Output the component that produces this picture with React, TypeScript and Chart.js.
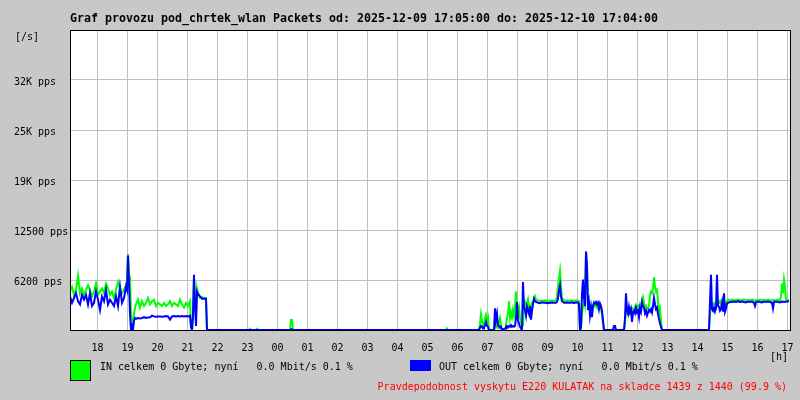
import React, { useEffect, useRef } from "react";
import { Chart, registerables } from "chart.js";

Chart.register(...registerables);

// minutes since 2025-12-09 17:05
const timeMin = [
  0, 4, 8, 12, 16, 20, 24, 28, 32, 36, 40, 44, 48, 52, 56, 60, 64, 68, 72, 76, 80, 84, 88, 92, 96, 100, 104, 108, 112, 114, 116, 118, 120, 122, 124, 126, 128, 130,
  132, 136, 140, 144, 148, 152, 156, 160, 164, 168, 172, 176, 180, 184, 188, 192, 196, 200, 204, 208, 212, 216, 220, 224, 228, 232, 236, 240,
  242, 244, 246, 248, 250, 252, 254, 256, 260, 264, 268, 272, 274,
  358, 360, 362, 372, 374, 376, 440, 442, 444, 446, 752, 754, 756, 818,
  820, 822, 824, 826, 828, 830, 832, 834, 836, 838, 848, 850, 852, 854, 856, 858, 860, 862, 864,
  870, 872, 874, 876, 878, 880, 882, 884, 886, 888, 890, 892, 894, 896, 898, 900, 902, 904, 906,
  908, 910, 912, 914, 916, 918, 920, 922, 924, 926, 928, 930, 932, 936, 940, 944, 948, 952, 956, 960, 964, 968, 972,
  974, 976, 978, 980, 982, 984, 988, 992, 996, 1000, 1004, 1008, 1012, 1016, 1018, 1020,
  1022, 1024, 1026, 1028, 1030, 1032, 1034, 1036, 1038, 1040, 1042, 1044, 1046, 1048, 1050, 1052, 1054, 1056, 1058, 1060, 1062, 1064, 1066, 1068,
  1086, 1088, 1090, 1092, 1108,
  1110, 1112, 1114, 1116, 1118, 1120, 1122, 1124, 1126, 1128, 1130, 1132, 1134, 1136, 1138, 1140, 1142, 1144, 1146, 1148, 1150, 1152, 1154, 1156, 1158,
  1160, 1162, 1164, 1166, 1168, 1170, 1172, 1174, 1176, 1178, 1180, 1182, 1184, 1278,
  1280, 1282, 1284, 1286, 1288, 1290, 1292, 1294, 1296, 1298, 1300, 1302, 1304, 1306, 1308, 1310, 1312, 1314,
  1316, 1320, 1324, 1328, 1332, 1336, 1340, 1344, 1348, 1352, 1356, 1360, 1364, 1368, 1370, 1372, 1376, 1380, 1384, 1388, 1392, 1396, 1400, 1404, 1406,
  1408, 1412, 1416, 1420, 1422, 1424, 1426, 1428, 1430, 1432, 1436, 1438,
];

const inPps = [
  4800, 5400, 4400, 5000, 6800, 4600, 5200, 4400, 5000, 5600, 5000, 4200, 4800, 5800, 4400, 4800, 5200, 4600, 5800, 5200, 4400, 4800, 4000, 5000, 6000, 5200, 4600, 5000, 5600, 6200, 9500, 7000, 6500, 2000, 1200, 500, 2000, 2800,
  3200, 3800, 2800, 3600, 3000, 3400, 4000, 3200, 3600, 3800, 3000, 3400, 3200, 3000, 3400, 3000, 3200, 3600, 3000, 3400, 3200, 3000, 3800, 3200, 2800, 3400, 3000, 3600,
  600, 0, 1500, 6500, 3500, 2000, 5200, 4600, 4000, 4100, 4000, 4000, 0,
  0, 150, 0, 0, 150, 0, 0, 1250, 1250, 0, 0, 200, 0, 0,
  800, 2000, 1200, 300, 600, 1500, 1900, 1200, 1600, 0, 0, 600, 300, 500, 300, 1000, 1500, 600, 0,
  200, 800, 1500, 2000, 3600, 1500, 2200, 1600, 2500, 1800, 2800, 4800, 3000, 2200, 2800, 1600, 1000, 500, 600,
  3000, 3400, 2600, 3200, 3800, 2800, 3000, 2600, 3400, 3600, 3800, 4200, 3800, 3700, 3650, 3700, 3650, 3700, 3600, 3650, 3700, 3650, 3700,
  4200, 5500, 6500, 7400, 5500, 4000, 3700, 3650, 3700, 3650, 3700, 3600, 3700, 3650, 3600, 0,
  200, 2000, 3000, 3500, 3000, 9800, 8000, 3300, 2800, 3200, 2600, 3000, 2800, 3400, 3000, 3200, 2800, 3300, 3000, 3200, 2600, 2000, 800, 0,
  0, 0, 0, 0, 0,
  800, 2500, 2200, 2800, 2600, 2800, 2400, 2200, 2700, 2600, 2900, 2400, 2800, 3000, 2600, 3200, 2800, 3600, 4100, 3400, 2800, 3000, 2600, 2800, 3000,
  4400, 4800, 4600, 5200, 6600, 5400, 4800, 5000, 3600, 2000, 2600, 1200, 0, 0,
  2000, 3000, 3100, 3300, 3200, 3400, 3300, 3200, 3500, 3400, 3600, 3200, 3300, 3000, 3400, 3200, 3400, 3600,
  3800, 3700, 3800, 3700, 3750, 3800, 3700, 3750, 3800, 3700, 3750, 3700, 3800, 3700, 3650, 3750, 3700, 3800, 3700, 3750, 3700, 3800, 3700, 3750, 3700,
  3750, 3700, 3800, 3700, 4200, 5800, 4600, 6300, 5400, 3800, 3750, 3800,
];

const outPps = [
  4200, 3400, 4000, 4600, 3600, 3200, 4400, 3800, 4400, 3200, 4600, 3000, 3400, 4800, 3800, 2500, 4200, 3600, 5000, 3200, 3800, 3400, 3000, 4200, 3000, 5400, 3400, 4000, 5400, 5000, 9300, 6000, 2000, 0, 500, 0, 1200, 1500,
  1400, 1500, 1450, 1500, 1600, 1500, 1550, 1600, 1800, 1700, 1650, 1700, 1700, 1650, 1700, 1750, 1700, 1300, 1700, 1750, 1700, 1750, 1700, 1750, 1700, 1750, 1700, 1800,
  300, 0, 2000, 6900, 3000, 500, 4800, 4500, 4200, 3900, 3900, 3900, 0,
  0, 0, 0, 0, 0, 0, 0, 100, 100, 0, 0, 0, 0, 0,
  300, 500, 400, 200, 300, 600, 1000, 500, 400, 0, 0, 2700, 1200, 2000, 600, 500, 300, 400, 0,
  200, 400, 500, 300, 500, 400, 600, 400, 500, 400, 500, 1500, 3500, 1200, 800, 400, 200, 0, 6000,
  2800, 2500, 1800, 2900, 2400, 2000, 3000, 1300, 2400, 3200, 3900, 3600, 3500, 3400, 3350, 3450, 3400, 3400, 3350, 3400, 3450, 3400, 3400,
  3500, 3900, 5000, 5600, 4200, 3600, 3400, 3450, 3400, 3400, 3450, 3350, 3450, 3400, 3300, 0,
  300, 4500, 6300, 4000, 3000, 9800, 8000, 2500, 3400, 1800, 2800, 1600, 3000, 3400, 3300, 3500, 3200, 3400, 2600, 3300, 3000, 2400, 1200, 0,
  0, 500, 500, 0, 0,
  1500, 4600, 2400, 2000, 2900, 2200, 2600, 1000, 2200, 2400, 2100, 2800, 2200, 2400, 1600, 2700, 2300, 3500, 3000, 2800, 2100, 2400, 1800, 2200, 2500,
  2300, 2600, 2200, 3000, 4000, 3200, 2600, 2800, 2000, 1400, 800, 400, 0, 0,
  3500, 6900, 2600, 2400, 2800, 2300, 2700, 6900, 3000, 2900, 2400, 2600, 3400, 2300, 4600, 2300, 2700, 3300,
  3400, 3500, 3500, 3550, 3500, 3600, 3500, 3550, 3500, 3450, 3550, 3500, 3550, 3400, 3000, 3500, 3550, 3500, 3450, 3550, 3500, 3550, 3500, 3400, 2700,
  3500, 3550, 3500, 3450, 3500, 3550, 3500, 3550, 3500, 3550, 3600, 3550,
];

// hour grid positions (minutes since 17:05) and labels
const hourTicks = [55, 115, 175, 235, 295, 355, 415, 475, 535, 595, 655, 715, 775, 835, 895, 955, 1015, 1075, 1135, 1195, 1255, 1315, 1375, 1435];
const hourLabels = ["18", "19", "20", "21", "22", "23", "00", "01", "02", "03", "04", "05", "06", "07", "08", "09", "10", "11", "12", "13", "14", "15", "16", "17"];

const yTickValues = [0, 6250, 12500, 18750, 25000, 31250, 37500];
const yTickLabels = ["", "6200 pps", "12500 pps", "19K pps", "25K pps", "32K pps", ""];

const titleText = "Graf provozu pod_chrtek_wlan Packets od: 2025-12-09 17:05:00 do: 2025-12-10 17:04:00";
const inLegend = "IN celkem 0 Gbyte; nyní   0.0 Mbit/s 0.1 %";
const outLegend = "OUT celkem 0 Gbyte; nyní   0.0 Mbit/s 0.1 %";
const noteText = "Pravdepodobnost vyskytu E220 KULATAK na skladce 1439 z 1440 (99.9 %)";

const MONO = "'DejaVu Sans Mono', 'Liberation Mono', monospace";

const framePlugin = {
  id: "frame",
  beforeDraw(chart: any) {
    const { ctx, chartArea } = chart;
    ctx.save();
    ctx.fillStyle = "#ffffff";
    ctx.fillRect(chartArea.left, chartArea.top, chartArea.right - chartArea.left, chartArea.bottom - chartArea.top);
    ctx.restore();
  },
  afterDraw(chart: any) {
    const { ctx, chartArea } = chart;
    ctx.save();
    ctx.strokeStyle = "#000000";
    ctx.lineWidth = 1;
    const l = Math.round(chartArea.left) + 0.5;
    const t = Math.round(chartArea.top) + 0.5;
    const r = Math.round(chartArea.right) + 0.5;
    const b = Math.round(chartArea.bottom) + 0.5;
    ctx.strokeRect(l, t, r - l, b - t);
    ctx.restore();
  },
};

export default function App() {
  const ref = useRef<HTMLCanvasElement | null>(null);

  useEffect(() => {
    if (!ref.current) return;
    const font = { family: MONO, size: 10 };
    const chart = new Chart(ref.current, {
      type: "line",
      data: {
        datasets: [
          {
            label: "OUT",
            data: timeMin.map((m, i) => ({ x: m, y: outPps[i] })),
            borderColor: "#0000ff",
            borderWidth: 2,
            pointRadius: 0,
            tension: 0,
            fill: false,
          },
          {
            label: "IN",
            data: timeMin.map((m, i) => ({ x: m, y: inPps[i] })),
            borderColor: "#00ff00",
            borderWidth: 2,
            pointRadius: 0,
            tension: 0,
            fill: false,
          },
        ],
      },
      options: {
        animation: false,
        responsive: false,
        maintainAspectRatio: false,
        layout: { padding: { left: 14, top: 30, right: 10, bottom: 0 } },
        plugins: { legend: { display: false }, tooltip: { enabled: false }, title: { display: false } },
        scales: {
          x: {
            type: "linear",
            min: 0,
            max: 1440,
            afterBuildTicks: (s: any) => {
              s.ticks = hourTicks.map((v) => ({ value: v }));
            },
            afterFit: (s: any) => {
              s.height = 70;
            },
            ticks: {
              autoSkip: false,
              maxRotation: 0,
              minRotation: 0,
              padding: 0,
              color: "#000000",
              font,
              callback: (_v: any, i: number) => hourLabels[i],
            },
            grid: { color: "#c0c0c0", drawTicks: true, tickLength: 12, tickColor: "rgba(0,0,0,0)" },
            border: { color: "#000000", width: 1 },
          },
          y: {
            min: 0,
            max: 37500,
            afterBuildTicks: (s: any) => {
              s.ticks = yTickValues.map((v) => ({ value: v }));
            },
            afterFit: (s: any) => {
              s.width = 56;
            },
            ticks: {
              crossAlign: "far",
              color: "#000000",
              font,
              padding: 0,
              labelOffset: 2,
              callback: (_v: any, i: number) => yTickLabels[i],
            },
            grid: { color: "#c0c0c0", drawTicks: false },
            border: { color: "#000000", width: 1 },
          },
        },
      },
      plugins: [framePlugin],
    } as any);
    return () => chart.destroy();
  }, []);

  const txt: React.CSSProperties = {
    position: "absolute",
    fontFamily: MONO,
    fontSize: 10,
    lineHeight: "12px",
    whiteSpace: "pre",
    color: "#000000",
  };

  return (
    <div style={{ position: "absolute", left: 0, top: 0, width: 800, height: 400, background: "#c8c8c8", overflow: "hidden" }}>
      <canvas ref={ref} width={800} height={400} style={{ position: "absolute", left: 0, top: 0, width: 800, height: 400 }} />
      <div style={{ ...txt, left: 70, top: 11, fontSize: 11.63, lineHeight: "14px", fontWeight: "bold" }}>{titleText}</div>
      <div style={{ ...txt, left: 15, top: 31 }}>[/s]</div>
      <div style={{ ...txt, left: 770, top: 351 }}>[h]</div>
      <div style={{ position: "absolute", left: 70, top: 360, width: 21, height: 21, boxSizing: "border-box", border: "1px solid #000", background: "#00ff00" }} />
      <div style={{ ...txt, left: 100, top: 361 }}>{inLegend}</div>
      <div style={{ position: "absolute", left: 410, top: 360, width: 21, height: 11, background: "#0000ff" }} />
      <div style={{ ...txt, left: 439, top: 361 }}>{outLegend}</div>
      <div style={{ ...txt, right: 13, top: 381, color: "#ff0000" }}>{noteText}</div>
    </div>
  );
}
